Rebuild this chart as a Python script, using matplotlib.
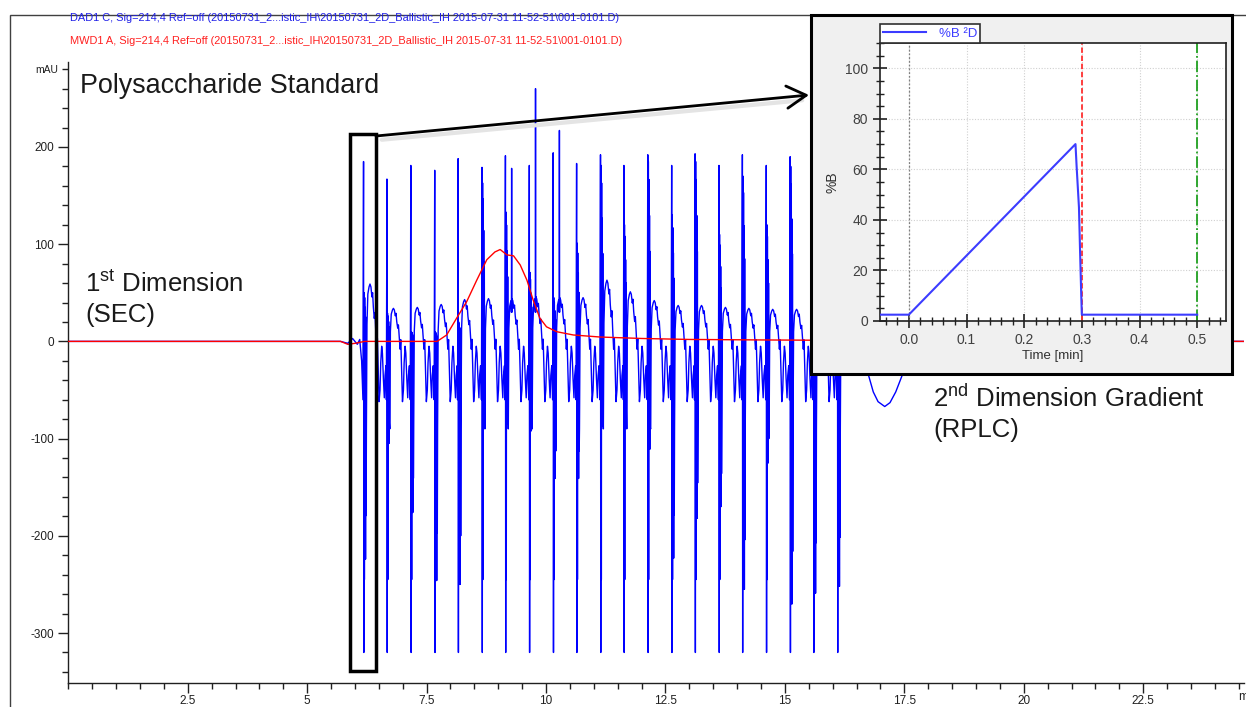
import numpy as np
import matplotlib
matplotlib.use("Agg")
import matplotlib.pyplot as plt
from matplotlib.patches import Rectangle, FancyArrowPatch
from matplotlib.ticker import MultipleLocator, FixedLocator

plt.rcParams['font.family'] = ['Liberation Sans', 'DejaVu Sans']
plt.rcParams['mathtext.fontset'] = 'custom'
plt.rcParams['mathtext.rm'] = 'Liberation Sans'
plt.rcParams['mathtext.it'] = 'Liberation Sans:italic'
plt.rcParams['mathtext.bf'] = 'Liberation Sans:bold'
plt.rcParams['axes.unicode_minus'] = False

NARROW = ['Liberation Sans Narrow', 'Liberation Sans']

# ---------------- data ----------------
# 2D-LC modulation cycles of the DAD1 C trace (start time of each 2nd-dim cycle, min)
cycle_start = [6.18, 6.67, 7.17, 7.67, 8.16, 8.66, 9.15, 9.65, 10.15, 10.64, 11.14,
               11.63, 12.13, 12.63, 13.12, 13.62, 14.11, 14.61, 15.11, 15.60, 16.10]
spike_top = [185, 167, 181, 176, 188, 179, 191, 181, 194, 183, 192,
             181, 192, 181, 193, 181, 192, 181, 190, 180, 185]
thick_up = [50, 29, 10, 10, 20, 163, 133, 71, 45, 101, 181,
            120, 185, 130, 185, 110, 170, 120, 180, 130, 150]
thick_down = [-224, -105, -176, -246, -250, -85, -85, -92, -141, -141, -87,
              -89, -111, -223, -182, -170, -255, -125, -270, -259, -252]
hump_top = [59, 34, 35, 38, 43, 44, 44, 46, 45, 45, 63,
            51, 42, 37, 37, 35, 34, 33, 33, 33, 33]
spike_floor = -320
spike_mid = -245

# shape of one cycle after the injection spike (offset in min, mAU for a 40 mAU hump)
cycle_dt = [0.072, 0.090, 0.115, 0.135, 0.155, 0.175, 0.190, 0.205,
            0.225, 0.240, 0.255, 0.275, 0.290, 0.305, 0.325, 0.345, 0.360, 0.380,
            0.395, 0.415, 0.435, 0.450, 0.470]
cycle_v = [12, 33, 38, 40, 38, 31, 34, 24,
           16, 20, 8, -8, 2, -25, -62, -50, -22, -5,
           -12, -38, -58, -35, -25]

# analyte peaks between injection spikes
extra_t = [9.28, 9.78, 10.28]
extra_top = [178, 260, 217]

# DAD1 C before and after the modulation
pre_t = [0.0, 5.70, 5.85, 5.95, 6.05, 6.10, 6.14]
pre_v = [0, 0, -2, 3, -3, 2, -20]
tail_t = [16.55, 16.74, 16.85, 16.95, 17.09, 17.20, 17.32, 17.47, 17.70, 18.00, 24.61]
tail_v = [-10, -33, -52, -62, -67, -63, -52, -33, -12, 0, 0]

# MWD1 A trace (1st dimension SEC)
red_t = [0.0, 5.70, 5.85, 6.00, 6.20, 7.72, 7.92, 8.13, 8.34, 8.55, 8.76, 8.93, 9.04,
         9.18, 9.32, 9.46, 9.60, 9.73, 9.87, 10.01, 10.22, 10.57, 11.13, 12.00, 13.00,
         14.50, 16.50, 24.61]
red_v = [0, 0, -3, -2, 0, 0, 6.6, 24, 41, 63, 84, 92, 94.5,
         89, 88, 78.6, 63, 42.6, 24, 15, 10, 6.6, 4.5, 3, 2,
         1.5, 1, 0]

# inset: 2nd dimension gradient
grad_t = [-0.05, 0.0, 0.289, 0.291, 0.295, 0.297, 0.299, 0.300, 0.5]
grad_b = [2.5, 2.5, 70, 61, 45, 27, 10, 2.5, 2.5]
marker_t = [0.0, 0.3, 0.5]

x_major = [2.5, 5, 7.5, 10, 12.5, 15, 17.5, 20, 22.5]
x_labels = ['2.5', '5', '7.5', '10', '12.5', '15', '17.5', '20', '22.5']
y_major = [-300, -200, -100, 0, 100, 200]

title_blue = ("DAD1 C, Sig=214,4 Ref=off (20150731_2...istic_IH\\20150731_2D_Ballistic_IH "
              "2015-07-31 11-52-51\\001-0101.D)")
title_red = ("MWD1 A, Sig=214,4 Ref=off (20150731_2...istic_IH\\20150731_2D_Ballistic_IH "
             "2015-07-31 11-52-51\\001-0101.D)")

# ---------------- build the blue trace from the read values ----------------
bt, bv = list(pre_t), list(pre_v)
n = len(cycle_start)
for k in range(n):
    t0 = cycle_start[k]
    P, U, T = spike_top[k], thick_up[k], thick_down[k]
    cl_dt = [-0.012, 0.000, 0.006, 0.012, 0.018, 0.024, 0.030, 0.036, 0.042,
             0.048, 0.054, 0.060]
    cl_v = [-60, P, spike_floor, U, spike_mid, U * 0.9, T, U * 0.7, T,
            U * 0.5, T * 0.8, -90]
    for d, v in zip(cl_dt, cl_v):
        bt.append(t0 + d); bv.append(v)
    for d, v in zip(cycle_dt, cycle_v):
        if k == n - 1 and d > 0.30:
            break
        bt.append(t0 + d)
        bv.append(v * hump_top[k] / 40.0 if v > 0 else v)
for t, p in zip(extra_t, extra_top):
    bt += [t - 0.004, t, t + 0.004]
    bv += [30, p, 30]
bt += tail_t; bv += tail_v
order = np.argsort(np.array(bt), kind='stable')
bt = np.array(bt)[order]; bv = np.array(bv)[order]

# ---------------- figure ----------------
W, H = 1246, 707
fig = plt.figure(figsize=(W / 100, H / 100), dpi=100)
fig.patch.set_facecolor('white')
fx = lambda px: px / W
fy = lambda py: 1 - py / H

# outer frame
fig.patches.append(Rectangle((fx(10), -0.05), 1.2, fy(15) + 0.05, fill=False,
                             ec='#404040', lw=1.0, transform=fig.transFigure, zorder=0))

ax = fig.add_axes([fx(68.3), fy(683), fx(1244) - fx(68.3), fy(62) - fy(683)])
ax.set_xlim(0, 24.61)
ax.set_ylim(-351.4, 287.4)
ax.patch.set_alpha(0)
for s in ['top', 'right']:
    ax.spines[s].set_visible(False)
for s in ['left', 'bottom']:
    ax.spines[s].set_color('#202020'); ax.spines[s].set_linewidth(1.0)

ax.plot(bt, bv, color='#0000ff', lw=1.0, zorder=2)
ax.plot(red_t, red_v, color='#ff0000', lw=1.0, zorder=3)

ax.xaxis.set_major_locator(FixedLocator(x_major))
ax.set_xticklabels(x_labels)
ax.xaxis.set_minor_locator(MultipleLocator(0.5))
ax.yaxis.set_major_locator(FixedLocator(y_major))
ax.yaxis.set_minor_locator(MultipleLocator(20))
ax.tick_params(axis='both', which='major', length=7, width=1, color='#202020',
               labelsize=8.5, labelcolor='#202020')
ax.tick_params(axis='both', which='minor', length=4, width=1, color='#202020')
ax.tick_params(axis='x', pad=2)
ax.tick_params(axis='y', pad=3)
for lab in ax.get_xticklabels() + ax.get_yticklabels():
    lab.set_family(NARROW)

fig.text(fx(58), fy(70), 'mAU', ha='right', va='center', fontsize=7.5,
         family=NARROW, color='#202020')
fig.text(fx(1238), fy(697), 'm', ha='left', va='center', fontsize=8.5,
         family=NARROW, color='#202020')

fig.text(fx(70), fy(18), title_blue, ha='left', va='center', fontsize=7.9,
         family=NARROW, color='#2020e8')
fig.text(fx(70), fy(41), title_red, ha='left', va='center', fontsize=7.9,
         family=NARROW, color='#ff2020')

# annotations
ann = dict(ha='left', va='baseline', fontsize=18.5, color='#1a1a1a')
fig.text(fx(80), fy(93), 'Polysaccharide Standard', **dict(ann, fontsize=19.4))
fig.text(fx(85), fy(292), r'1$^{\mathrm{st}}$ Dimension', **ann)
fig.text(fx(85), fy(322), '(SEC)', **ann)
fig.text(fx(933), fy(407), r'2$^{\mathrm{nd}}$ Dimension Gradient', **ann)
fig.text(fx(933), fy(437), '(RPLC)', **ann)

# highlight box and arrow
fig.patches.append(Rectangle((fx(350), fy(671)), fx(376) - fx(350), fy(134) - fy(671),
                             fill=False, ec='black', lw=2.5, transform=fig.transFigure,
                             zorder=3))
fig.patches.append(FancyArrowPatch((fx(379), fy(140)), (fx(805), fy(100)),
                                   arrowstyle='-', lw=3, color='#e4e4e4',
                                   transform=fig.transFigure, zorder=2.5))
fig.patches.append(FancyArrowPatch((fx(376), fy(136)), (fx(809), fy(95)),
                                   arrowstyle='->,head_length=0.7,head_width=0.4',
                                   mutation_scale=20, lw=2, color='black',
                                   shrinkA=0, shrinkB=0,
                                   transform=fig.transFigure, zorder=3))

# inset panel
fig.patches.append(Rectangle((fx(811), fy(374)), fx(1232) - fx(811), fy(15) - fy(374),
                             fc='#f0f0f0', ec='black', lw=2.2, transform=fig.transFigure,
                             zorder=4))
axi = fig.add_axes([fx(880), fy(321), fx(1226) - fx(880), fy(43) - fy(321)])
axi.set_zorder(5)
axi.set_facecolor('white')
axi.set_xlim(-0.05, 0.55)
axi.set_ylim(0, 110)
for s in axi.spines.values():
    s.set_color('#202020'); s.set_linewidth(1.2)
axi.xaxis.set_minor_locator(MultipleLocator(0.02))
axi.yaxis.set_major_locator(MultipleLocator(20))
axi.yaxis.set_minor_locator(MultipleLocator(5))
axi.set_xticks([0.0, 0.1, 0.2, 0.3, 0.4, 0.5])
axi.set_xticklabels(['0.0', '0.1', '0.2', '0.3', '0.4', '0.5'])
axi.tick_params(which='major', direction='inout', length=10, width=1.2,
                color='#202020', labelsize=10, labelcolor='#404040')
axi.tick_params(which='minor', direction='inout', length=6, width=1.0, color='#202020')
axi.tick_params(axis='x', which='both', top=False)
axi.tick_params(axis='y', which='both', right=False)
axi.grid(True, which='major', color='#d0d0d0', ls=(0, (1, 1.5)), lw=0.8)
axi.set_axisbelow(True)

mk_styles = [dict(color='#808080', ls=(0, (1.5, 1.5)), lw=0.9),
             dict(color='#ff3030', ls=(0, (3, 1.5)), lw=1.3),
             dict(color='#20a020', ls='-.', lw=1.3)]
for t, st in zip(marker_t, mk_styles):
    axi.axvline(t, **st, zorder=2)

axi.plot(grad_t, grad_b, color='#3c3cff', lw=1.5, zorder=3, label='%B \u00b2D')
axi.set_xlabel('Time [min]', fontsize=9.5, color='#303030', labelpad=2)
axi.set_ylabel('%B', fontsize=10, color='#303030', labelpad=4)
leg = axi.legend(loc='lower left', bbox_to_anchor=(0, 1.0), borderaxespad=0,
                 frameon=True, fancybox=False, edgecolor='#303030', framealpha=1,
                 fontsize=9.5, handlelength=3.2, handletextpad=1.0,
                 borderpad=0.25, labelcolor='#3c3cff')
leg.get_frame().set_linewidth(1.2)

fig.savefig('out.png', dpi=100)
